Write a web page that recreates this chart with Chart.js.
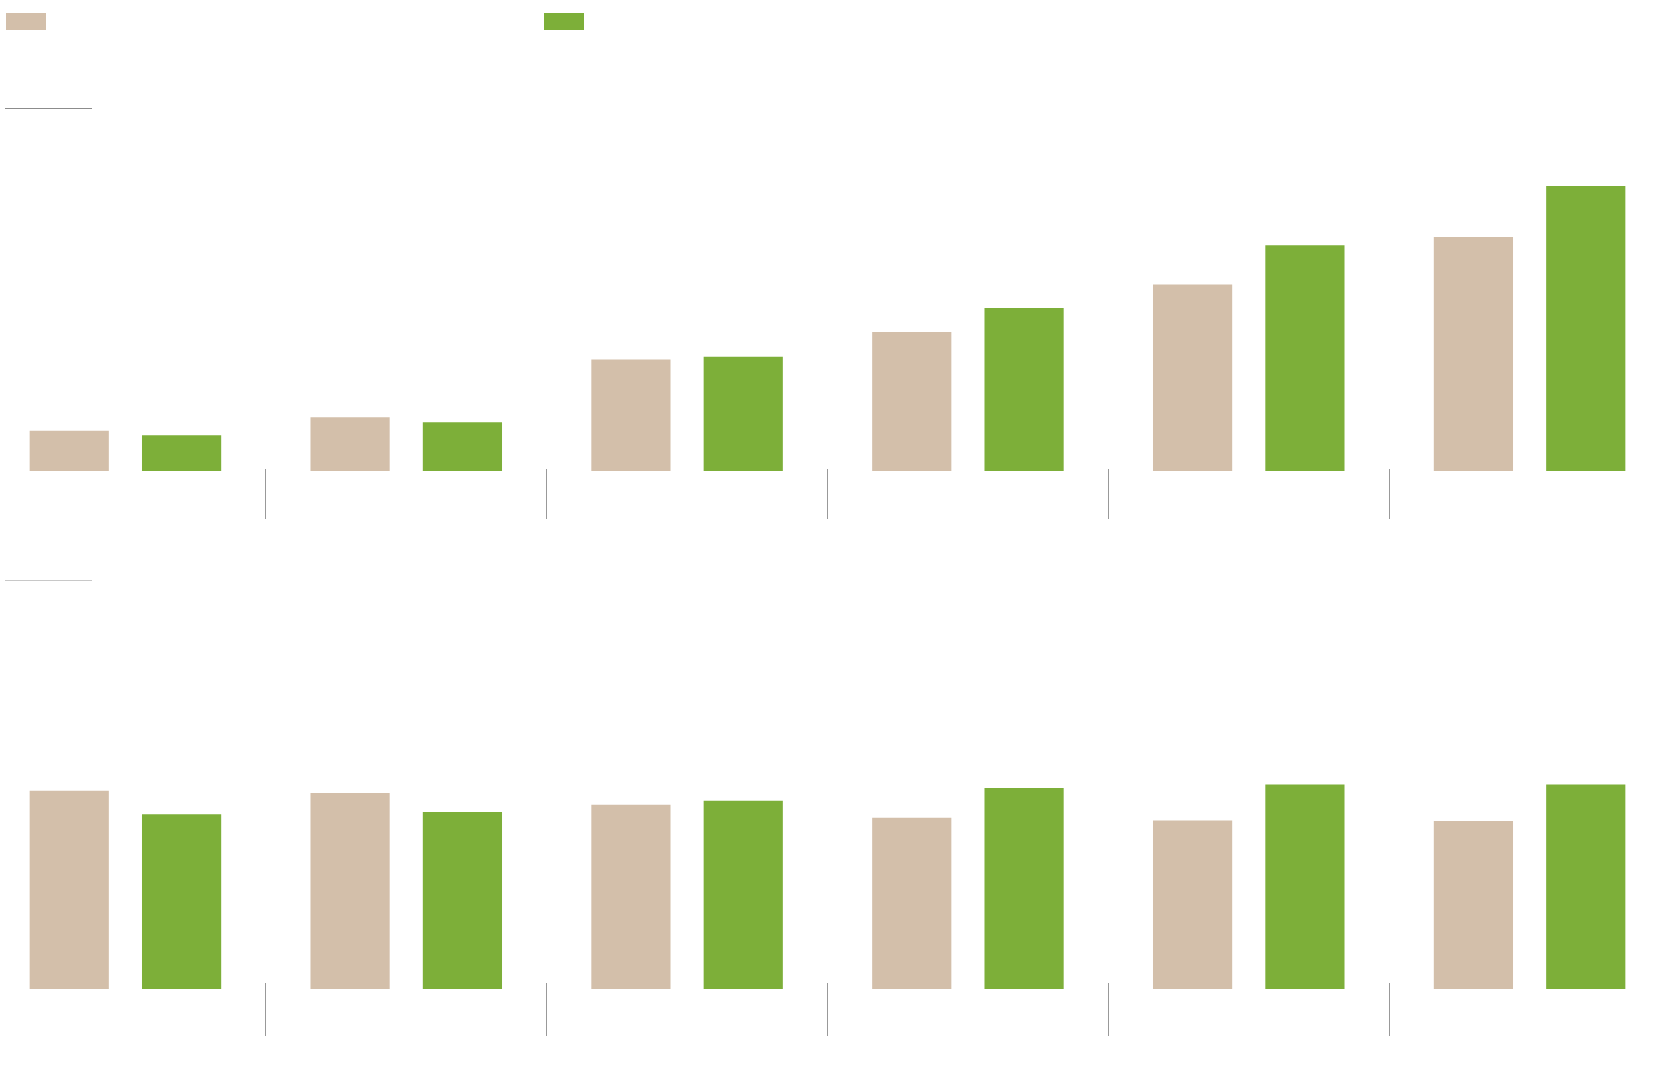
<!DOCTYPE html>
<html>
<head>
<meta charset="utf-8">
<title>Grouped bars</title>
<script src="https://cdn.jsdelivr.net/npm/chart.js@4.4.0/dist/chart.umd.min.js"></script>
<style>
    html, body { margin:0; padding:0; background:#fff; width:1660px; height:1076px; overflow:hidden; position:relative; }
    .swatch { position:absolute; top:13px; width:40px; height:17px; }
    .rule { position:absolute; left:5px; width:87px; height:1px; }
    canvas { position:absolute; left:-15px; }
</style>
</head>
<body>
<div class="swatch" id="swatchA" style="left:6px"></div>
<div class="swatch" id="swatchB" style="left:544px"></div>
<div class="rule" style="top:108px;background:#8c8c8c"></div>
<div class="rule" style="top:580px;background:#c8c8c8"></div>
<canvas id="topChart" width="1685" height="400" style="top:119px"></canvas>
<canvas id="bottomChart" width="1685" height="436" style="top:600px"></canvas>
<script>
// ===== Data =====
const categories = ['1', '2', '3', '4', '5', '6'];
const seriesNames = ['A', 'B'];
const seriesColors = ['#d3bfaa', '#7daf39'];

// upper panel
const topSeriesA = [7.2, 9.6, 19.9, 24.8, 33.3, 41.8];
const topSeriesB = [6.4, 8.7, 20.4, 29.1, 40.3, 50.9];

// lower panel
const bottomSeriesA = [35.4, 35.0, 32.9, 30.6, 30.1, 30.0];
const bottomSeriesB = [31.2, 31.6, 33.6, 35.9, 36.5, 36.5];

document.getElementById('swatchA').style.background = seriesColors[0];
document.getElementById('swatchB').style.background = seriesColors[1];

// ===== Build one panel =====
function makePanel(id, valuesA, valuesB, yMin, yMax, tickLen) {
    return new Chart(document.getElementById(id), {
        type: 'bar',
        data: {
            labels: categories,
            datasets: [
                { label: seriesNames[0], data: valuesA, backgroundColor: seriesColors[0], clip: false },
                { label: seriesNames[1], data: valuesB, backgroundColor: seriesColors[1], clip: false }
            ]
        },
        options: {
            responsive: false,
            animation: false,
            devicePixelRatio: 1,
            layout: { padding: 0, autoPadding: false },
            categoryPercentage: 0.8,
            barPercentage: 0.705,
            plugins: { legend: { display: false }, tooltip: { enabled: false } },
            scales: {
                x: {
                    offset: true,
                    ticks: { display: false },
                    border: { display: false },
                    grid: { offset: true, drawOnChartArea: false, drawTicks: true, tickLength: tickLen, color: '#999', lineWidth: 1 }
                },
                y: { display: false, min: yMin, max: yMax }
            }
        }
    });
}

makePanel('topChart', topSeriesA, topSeriesB, 0.357, 62.857, 50);
makePanel('bottomChart', bottomSeriesA, bottomSeriesB, 1.071, 69.464, 53);
</script>
</body>
</html>
